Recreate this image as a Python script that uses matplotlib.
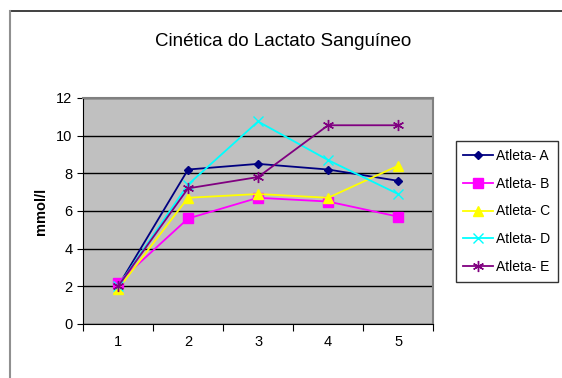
import matplotlib.pyplot as plt
from matplotlib.lines import Line2D

plt.rcParams['font.family'] = ['Liberation Sans', 'DejaVu Sans']

dias = [1, 2, 3, 4, 5]
atleta_a = [2.0, 8.2, 8.5, 8.2, 7.6]
atleta_b = [2.2, 5.6, 6.7, 6.5, 5.7]
atleta_c = [1.85, 6.7, 6.9, 6.7, 8.4]
atleta_d = [2.0, 7.4, 10.75, 8.7, 6.9]
atleta_e = [2.0, 7.2, 7.8, 10.55, 10.55]

fig = plt.figure(figsize=(5.62, 3.78), dpi=100)
ax = fig.add_axes([0.1477, 0.1429, 0.623, 0.598])
ax.set_facecolor('#C0C0C0')

# moldura da folha (linha superior escura, lateral cinza)
fig.add_artist(Line2D([0.0178, 1.0], [0.971, 0.971], color='#202020', lw=1.2))
fig.add_artist(Line2D([0.0178, 0.0178], [0.0, 0.971], color='#909090', lw=1.5))

ax.plot(dias, atleta_a, color='#000080', marker='D', markersize=4.5, lw=1.3, label='Atleta- A')
ax.plot(dias, atleta_b, color='#FF00FF', marker='s', markersize=7, lw=1.3, label='Atleta- B')
ax.plot(dias, atleta_c, color='#FFFF00', marker='^', markersize=7, lw=1.3, label='Atleta- C')
ax.plot(dias, atleta_d, color='#00FFFF', marker='x', markersize=7, lw=1.3, label='Atleta- D')
ax.plot(dias, atleta_e, color='#800080', marker=(6, 2, 0), markersize=8, lw=1.3, label='Atleta- E')

ax.set_xlim(0.5, 5.5)
ax.set_ylim(0, 12)
ax.set_yticks(range(0, 13, 2))
ax.yaxis.grid(True, color='black', lw=1)
ax.set_axisbelow(True)
ax.set_xticks([0.5, 1.5, 2.5, 3.5, 4.5, 5.5], minor=False)
ax.set_xticks(dias, minor=True)
ax.set_xticklabels([str(d) for d in dias], minor=True, fontsize=10.5)
ax.set_xticklabels([])
ax.tick_params(axis='x', which='minor', length=0, pad=8)
ax.tick_params(axis='x', which='major', length=5, direction='out')
ax.tick_params(axis='y', labelsize=10.5, length=4, direction='out')

for s in ['top', 'right']:
    ax.spines[s].set_color('#808080')
    ax.spines[s].set_linewidth(1.5)
ax.spines['left'].set_color('black')
ax.spines['bottom'].set_color('black')

ax.set_ylabel('mmol/l', fontsize=10.5, fontweight='bold', labelpad=6)
fig.text(0.504, 0.89, 'Cinética do Lactato Sanguíneo', ha='center', va='center', fontsize=13.5)

leg = fig.legend(*ax.get_legend_handles_labels(), loc='upper left',
                 bbox_to_anchor=(0.811, 0.627), fontsize=10, frameon=True,
                 fancybox=False, edgecolor='black', handlelength=2.1, labelspacing=1.0,
                 borderpad=0.55, handletextpad=0.25, borderaxespad=0)
leg.get_frame().set_linewidth(1)

fig.savefig('out.png', dpi=100)
